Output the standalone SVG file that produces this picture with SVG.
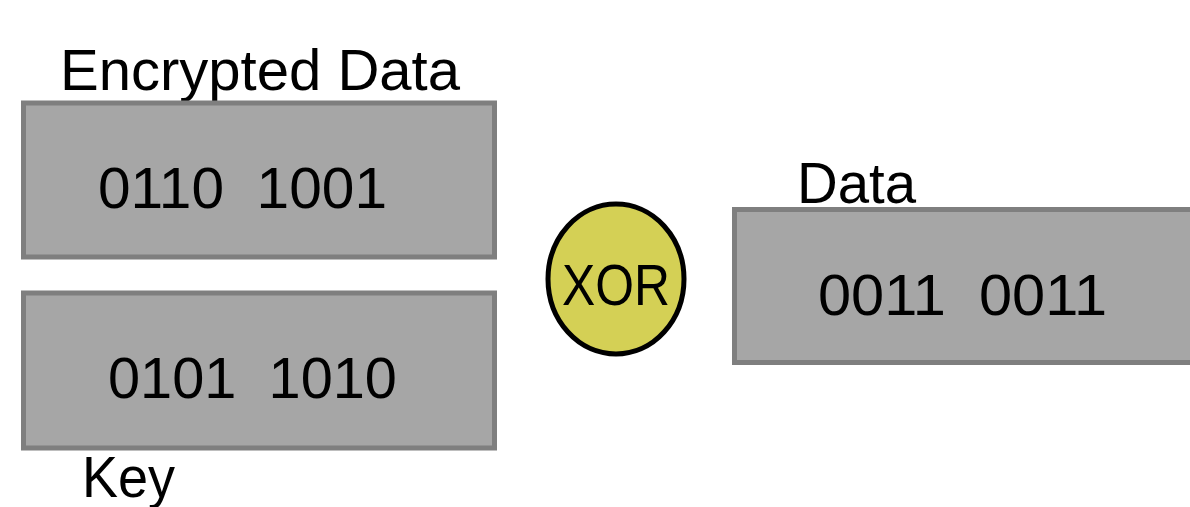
<svg xmlns="http://www.w3.org/2000/svg" width="1190" height="507" viewBox="0 0 1190 507">
<style>
.box{fill:#a6a6a6;stroke:#7f7f7f;stroke-width:5}
.t{font-family:"Liberation Sans",Arial,sans-serif;font-size:58px;fill:#000}
.xor{fill:#d4d055;stroke:#000;stroke-width:5}
</style>
<rect width="1190" height="507" fill="#fff"/>
<g id="encrypted">
<text class="t" x="60" y="90" textLength="400" lengthAdjust="spacingAndGlyphs">Encrypted Data</text>
<rect class="box" x="23.5" y="103" width="471" height="154"/>
<text class="t" x="98" y="208" textLength="289" lengthAdjust="spacingAndGlyphs" xml:space="preserve">0110  1001</text>
</g>
<g id="key">
<rect class="box" x="23.5" y="293" width="471" height="155"/>
<text class="t" x="108" y="398" textLength="289" lengthAdjust="spacingAndGlyphs" xml:space="preserve">0101  1010</text>
<text class="t" x="82" y="497" textLength="93" lengthAdjust="spacingAndGlyphs">Key</text>
</g>
<g id="xor">
<ellipse class="xor" cx="616" cy="279" rx="68" ry="75"/>
<text class="t" x="562" y="305" textLength="108" lengthAdjust="spacingAndGlyphs">XOR</text>
</g>
<g id="data">
<text class="t" x="797" y="203" textLength="119" lengthAdjust="spacingAndGlyphs">Data</text>
<rect class="box" x="734.5" y="209.5" width="470" height="153"/>
<text class="t" x="818" y="315" textLength="289" lengthAdjust="spacingAndGlyphs" xml:space="preserve">0011  0011</text>
</g>
<g id="connectors"/>
</svg>
